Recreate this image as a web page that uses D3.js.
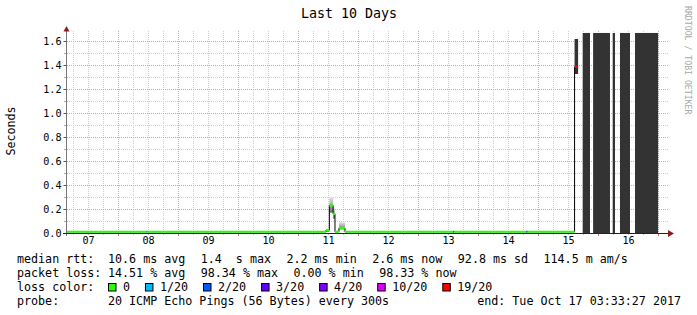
<!DOCTYPE html>
<html>
<head>
<meta charset="utf-8">
<script src="https://cdn.jsdelivr.net/npm/d3@7"></script>
<style>
  body { margin: 0; background: #fff; }
  svg { display: block; font-family: "DejaVu Sans Mono", monospace; }
  text { white-space: pre; }
</style>
</head>
<body>
<svg id="chart" width="697" height="315"></svg>
<script>
const title = "Last 10 Days";
const yLabel = "Seconds";
const watermark = "RRDTOOL / TOBI OETIKER";
const startTime = "2017-10-07T03:33:27";
const endTime = "2017-10-17T03:33:27";
const yTicks = [0, 0.2, 0.4, 0.6, 0.8, 1.0, 1.2, 1.4, 1.6];
const yMinor = [0.1, 0.3, 0.5, 0.7, 0.9, 1.1, 1.3, 1.5];

const lossLabels = ["0", "1/20", "2/20", "3/20", "4/20", "10/20", "19/20"];
const lossColors = ["#26ff00", "#00b8ff", "#0059ff", "#5e00ff", "#7e00ff", "#dd00ff", "#ff0000"];

// median rtt, one step per row: [start, seconds, loss index]; null = no data
const median = [
  ["2017-10-07T03:33", 0.0106, 0],
  ["2017-10-08T11:20", 0.0106, 1],
  ["2017-10-08T11:45", 0.0106, 0],
  ["2017-10-11T11:10", 0.025, 0],
  ["2017-10-11T12:30", 0.23, 0],
  ["2017-10-11T14:00", 0.16, 0],
  ["2017-10-11T14:45", 0.0106, 0],
  ["2017-10-11T16:20", 0.042, 0],
  ["2017-10-11T18:45", 0.0106, 0],
  ["2017-10-13T14:00", 0.0106, 2],
  ["2017-10-13T14:25", 0.0106, 0],
  ["2017-10-14T19:20", 0.0106, 2],
  ["2017-10-14T19:45", 0.0106, 0],
  ["2017-10-15T14:35", 1.386, 6],
  ["2017-10-15T16:00", null, 0]
];

// light smoke around the spike: [from, to, low, high]
const smoke = [
  ["2017-10-11T11:10", "2017-10-11T12:30", 0.01, 0.032],
  ["2017-10-11T12:30", "2017-10-11T14:00", 0.17, 0.30],
  ["2017-10-11T14:00", "2017-10-11T14:45", 0.12, 0.21],
  ["2017-10-11T16:20", "2017-10-11T18:45", 0.03, 0.09]
];

// dense smoke at the end: [from, to, low, high]
const darkSmoke = [
  ["2017-10-15T14:35", "2017-10-15T16:00", 1.325, 1.617],
  ["2017-10-15T17:50", "2017-10-15T20:45", 0, 1.667],
  ["2017-10-15T22:00", "2017-10-16T04:45", 0, 1.667],
  ["2017-10-16T05:50", "2017-10-16T06:45", 0, 1.667],
  ["2017-10-16T08:45", "2017-10-16T12:45", 0, 1.667],
  ["2017-10-16T14:45", "2017-10-17T00:00", 0, 1.667]
];

const rttLegend = ["10.6 ms avg", "1.4  s max", "2.2 ms min", "2.6 ms now", "92.8 ms sd", "114.5 m am/s"];
const lossLegend = ["14.51 % avg", "98.34 % max", "0.00 % min", "98.33 % now"];
const probeText = "20 ICMP Echo Pings (56 Bytes) every 300s";
const endText = "end: Tue Oct 17 03:33:27 2017";

const svg = d3.select("#chart");
const t0 = new Date(startTime), t1 = new Date(endTime);
const plotLeft = 67, plotRight = 667, plotTop = 31, plotBottom = 233;

const x = d3.scaleTime().domain([t0, t1]).range([plotLeft, plotRight]);
const y = d3.scaleLinear().domain([0, (plotBottom - plotTop) / 120]).range([plotBottom, plotTop]);

const minorGrid = "#cfcfcf", majorGrid = "#e3a3a3", arrowColor = "#8b1c1c";

// grid
const grid = svg.append("g").attr("stroke-dasharray", "1,1").attr("stroke-width", 1);
const hours6 = d3.timeHour.every(6).range(t0, t1).filter(d => d.getHours() !== 0);
const days = d3.timeDay.range(t0, t1);
grid.selectAll(".vmin").data(hours6).join("line")
  .attr("x1", d => Math.round(x(d)) + 0.5).attr("x2", d => Math.round(x(d)) + 0.5)
  .attr("y1", plotTop).attr("y2", plotBottom).attr("stroke", minorGrid);
grid.selectAll(".hmin").data(yMinor).join("line")
  .attr("x1", plotLeft).attr("x2", plotRight + 1)
  .attr("y1", d => Math.round(y(d)) + 0.5).attr("y2", d => Math.round(y(d)) + 0.5)
  .attr("stroke", minorGrid);
grid.selectAll(".vmaj").data(days).join("line")
  .attr("x1", d => Math.round(x(d)) + 0.5).attr("x2", d => Math.round(x(d)) + 0.5)
  .attr("y1", plotTop).attr("y2", plotBottom).attr("stroke", majorGrid);
grid.selectAll(".hmaj").data(yTicks.filter(d => d > 0)).join("line")
  .attr("x1", plotLeft).attr("x2", plotRight + 1)
  .attr("y1", d => Math.round(y(d)) + 0.5).attr("y2", d => Math.round(y(d)) + 0.5)
  .attr("stroke", majorGrid);

// smoke
const defs = svg.append("defs");
const grad = defs.append("linearGradient").attr("id", "smokeGrad")
  .attr("x1", 0).attr("y1", 0).attr("x2", 0).attr("y2", 1);
grad.append("stop").attr("offset", 0).attr("stop-color", "#e4e4e4");
grad.append("stop").attr("offset", 0.55).attr("stop-color", "#a8a8a8");
grad.append("stop").attr("offset", 1).attr("stop-color", "#6a6a6a");

svg.append("g").selectAll("rect").data(smoke).join("rect")
  .attr("x", d => x(new Date(d[0]))).attr("width", d => x(new Date(d[1])) - x(new Date(d[0])))
  .attr("y", d => y(d[3])).attr("height", d => y(d[2]) - y(d[3]))
  .attr("fill", "url(#smokeGrad)");

svg.append("g").selectAll("rect").data(darkSmoke).join("rect")
  .attr("x", d => x(new Date(d[0]))).attr("width", d => x(new Date(d[1])) - x(new Date(d[0])))
  .attr("y", d => y(d[3])).attr("height", d => y(d[2]) - y(d[3]))
  .attr("fill", "#333333");

// median line: thin black steps, then loss coloured pieces
const steps = median.map(d => ({ t: new Date(d[0]), v: d[1], loss: d[2] }));
const line = d3.line().x(d => x(d.t)).y(d => y(d.v))
  .curve(d3.curveStepAfter).defined(d => d.v != null);
svg.append("path").datum(steps).attr("d", line)
  .attr("fill", "none").attr("stroke", "#000").attr("stroke-width", 1);

const pieces = steps.slice(0, -1).map((d, i) => ({ ...d, t2: steps[i + 1].t })).filter(d => d.v != null);
svg.append("g").selectAll("line").data(pieces).join("line")
  .attr("x1", d => x(d.t)).attr("x2", d => x(d.t2))
  .attr("y1", d => y(d.v)).attr("y2", d => y(d.v))
  .attr("stroke", d => lossColors[d.loss]).attr("stroke-width", 2.2);

// axes
const yAxis = svg.append("g").attr("transform", `translate(${plotLeft - 0.5},0)`)
  .call(d3.axisLeft(y).tickValues(yTicks).tickFormat(d3.format(".1f")).tickSize(3).tickPadding(2));
yAxis.select(".domain").remove();
yAxis.selectAll(".tick line").attr("stroke", "#555");
yAxis.selectAll(".tick text").attr("font-family", "DejaVu Sans Mono").attr("font-size", "10.15px")
  .attr("fill", "#000").attr("dy", "0.36em");
svg.append("g").selectAll("line").data(yMinor).join("line")
  .attr("x1", plotLeft - 3).attr("x2", plotLeft).attr("y1", d => Math.round(y(d)) + 0.5).attr("y2", d => Math.round(y(d)) + 0.5)
  .attr("stroke", "#aaa");

const noons = days.map(d => d3.timeHour.offset(d, -12)).concat([d3.timeHour.offset(days[days.length - 1], 12)])
  .filter(d => d >= t0 && d <= t1);
const xAxis = svg.append("g").attr("transform", `translate(0,${plotBottom + 1})`)
  .call(d3.axisBottom(x).tickValues(noons).tickFormat(d3.timeFormat("%d")).tickSize(0).tickPadding(3));
xAxis.select(".domain").remove();
xAxis.selectAll(".tick text").attr("font-family", "DejaVu Sans Mono").attr("font-size", "10.15px").attr("fill", "#000");

svg.append("g").selectAll("line").data(days).join("line")
  .attr("x1", d => Math.round(x(d)) + 0.5).attr("x2", d => Math.round(x(d)) + 0.5)
  .attr("y1", plotBottom).attr("y2", plotBottom + 3).attr("stroke", "#d07070");
svg.append("g").selectAll("line").data(hours6).join("line")
  .attr("x1", d => Math.round(x(d)) + 0.5).attr("x2", d => Math.round(x(d)) + 0.5)
  .attr("y1", plotBottom).attr("y2", plotBottom + 2).attr("stroke", "#bbb");

svg.append("line").attr("x1", plotLeft - 0.5).attr("x2", plotLeft - 0.5).attr("y1", plotTop - 1).attr("y2", plotBottom + 3)
  .attr("stroke", "#777");
svg.append("line").attr("x1", plotLeft - 4).attr("x2", plotRight + 5).attr("y1", plotBottom + 0.5).attr("y2", plotBottom + 0.5)
  .attr("stroke", "#222");
svg.append("path").attr("d", `M${plotLeft - 3.5},${plotTop + 0.5}L${plotLeft - 0.5},${plotTop - 5}L${plotLeft + 2.5},${plotTop + 0.5}Z`)
  .attr("fill", arrowColor);
svg.append("path").attr("d", `M${plotRight + 1},${plotBottom - 3}L${plotRight + 7},${plotBottom + 0.5}L${plotRight + 1},${plotBottom + 4}Z`)
  .attr("fill", arrowColor);

// titles
svg.append("text").attr("x", 349).attr("y", 18).attr("text-anchor", "middle")
  .attr("font-size", "13.3px").text(title);
svg.append("text").attr("transform", "translate(15,131) rotate(-90)").attr("text-anchor", "middle")
  .attr("font-size", "11.68px").text(yLabel);
svg.append("text").attr("transform", "translate(685,6) rotate(90)")
  .attr("font-size", "8.2px").attr("fill", "#a8a8a8").text(watermark);

// legend
const cw = 7.04, gap = 15.3, labelX = 17, valueX = 108;
const rows = [263, 277, 291, 305];
const legend = svg.append("g").attr("font-size", "11.68px").attr("fill", "#000");
function flowRow(items, yb) {
  let cx = valueX;
  items.forEach(s => {
    legend.append("text").attr("x", cx).attr("y", yb).text(s);
    cx += s.length * cw + gap;
  });
}
legend.append("text").attr("x", labelX).attr("y", rows[0]).text("median rtt:");
flowRow(rttLegend, rows[0]);
legend.append("text").attr("x", labelX).attr("y", rows[1]).text("packet loss:");
flowRow(lossLegend, rows[1]);
legend.append("text").attr("x", labelX).attr("y", rows[2]).text("loss color:");
let bx = valueX;
lossLabels.forEach((s, i) => {
  legend.append("rect").attr("x", bx + 0.5).attr("y", rows[2] - 7.5).attr("width", 7.5).attr("height", 7.5)
    .attr("fill", lossColors[i]).attr("stroke", "#000");
  legend.append("text").attr("x", bx + 15).attr("y", rows[2]).text(s);
  bx += 15 + s.length * cw + 14.9;
});
legend.append("text").attr("x", labelX).attr("y", rows[3]).text("probe:");
legend.append("text").attr("x", valueX).attr("y", rows[3]).text(probeText);
legend.append("text").attr("x", 681).attr("y", rows[3]).attr("text-anchor", "end").text(endText);
</script>
</body>
</html>
